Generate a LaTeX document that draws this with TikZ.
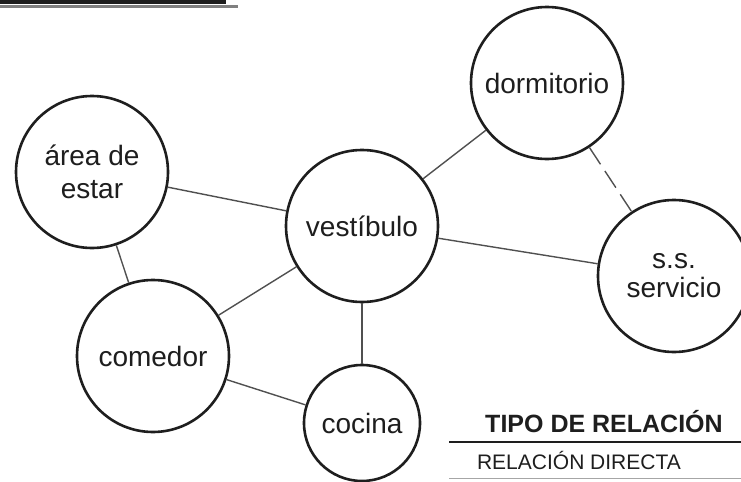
\documentclass[tikz,border=0pt]{standalone}
\usepackage{fontspec}
\setmainfont{Liberation Sans}
\usetikzlibrary{positioning}
\definecolor{inkdark}{HTML}{1E1E1E}
\definecolor{inkgray}{HTML}{505050}

\begin{document}
\begin{tikzpicture}[x=0.5pt,y=-0.5pt,
  rm/.style={circle,draw=inkdark,line width=1.3pt,fill=white,minimum size=76pt,inner sep=0pt,
             align=center,font=\fontsize{14}{16.5}\selectfont,text=inkdark},
  rms/.style={rm,minimum size=58pt},
  ln/.style={draw=inkgray,line width=0.7pt},
  ld/.style={ln,dash pattern=on 10pt off 4pt},
  ttl/.style={font=\bfseries\fontsize{12.5}{14}\selectfont,text=inkdark},
  sub/.style={font=\fontsize{10.5}{12}\selectfont,text=inkdark}]
\useasboundingbox (0,0) rectangle (741,482);
% heading rules
\draw[line width=2pt,inkdark] (0,2) -- (226,2);
\draw[line width=1.5pt,gray] (0,6.5) -- (238,6.5);
% rooms
\node[rm] (area) at (92,172) {área de\\estar};
\node[rm] (vest) at (362,226) {vestíbulo};
\node[rm] (com) at (153,356) {comedor};
\node[rms] (coc) at (362,423) {cocina};
\node[rm] (dorm) at (547,83) {dormitorio};
\node[rm] (serv) at (674,276) {s.s.\\[-2pt]servicio};
% relations
\draw[ln] (area) -- (vest);
\draw[ln] (area) -- (com);
\draw[ln] (vest) -- (com);
\draw[ln] (vest) -- (coc);
\draw[ln] (com) -- (coc);
\draw[ln] (vest) -- (dorm);
\draw[ln] (vest) -- (serv);
\draw[ld] (dorm) -- (serv);
% legend
\node[ttl] (tipo) at (604,422) {TIPO DE RELACIÓN};
\draw[line width=1pt,inkdark] (449,442) -- (741,442);
\node[sub,anchor=west] (dir) at (470,460) {RELACIÓN DIRECTA};
\draw[line width=0.5pt,gray!70] (449,478) -- (741,478);
\end{tikzpicture}
\end{document}
